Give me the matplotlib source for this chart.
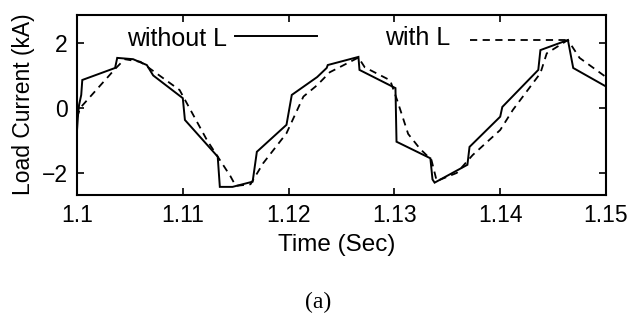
import matplotlib
matplotlib.use("Agg")
import matplotlib.pyplot as plt

# Without L (solid)
t_without = [1.1000, 1.1001, 1.1002, 1.1004, 1.1005, 1.1036, 1.1038, 1.1053, 1.1066, 1.1072,
             1.1100, 1.1102, 1.1133, 1.1135, 1.1147, 1.1166, 1.1170, 1.1198, 1.1203, 1.1227,
             1.1236, 1.1237, 1.1266, 1.1267, 1.1301, 1.1302, 1.1334, 1.1336, 1.1338, 1.1369,
             1.1371, 1.1400, 1.1402, 1.1436, 1.1438, 1.1464, 1.1469, 1.1500]
i_without = [-0.70, -0.20, 0.10, 0.40, 0.86, 1.23, 1.54, 1.50, 1.32, 1.00,
             0.30, -0.37, -1.50, -2.43, -2.43, -2.27, -1.35, -0.52, 0.40, 0.95,
             1.23, 1.32, 1.57, 1.17, 0.61, -1.04, -1.55, -2.20, -2.30, -1.75,
             -1.20, -0.27, 0.03, 1.17, 1.78, 2.09, 1.23, 0.66]

# With L (dashed)
t_with = [1.1000, 1.1003, 1.1036, 1.1045, 1.1060, 1.1097, 1.1123, 1.1145, 1.1150, 1.1164,
          1.1176, 1.1198, 1.1214, 1.1227, 1.1239, 1.1266, 1.1272, 1.1296, 1.1303, 1.1313,
          1.1324, 1.1335, 1.1340, 1.1359, 1.1374, 1.1400, 1.1412, 1.1438, 1.1444, 1.1464,
          1.1475, 1.1500]
i_with = [-0.30, 0.00, 1.20, 1.50, 1.42, 0.55, -1.00, -2.10, -2.40, -2.35,
          -1.70, -0.78, 0.35, 0.70, 1.10, 1.55, 1.25, 0.85, 0.20, -0.80,
          -1.25, -1.60, -2.25, -2.00, -1.45, -0.68, -0.06, 1.07, 1.68, 2.09,
          1.54, 0.95]

x_ticks = [1.10, 1.11, 1.12, 1.13, 1.14, 1.15]
x_tick_labels = ["1.1", "1.11", "1.12", "1.13", "1.14", "1.15"]
y_ticks = [-2, 0, 2]

plt.rcParams['font.family'] = ['Liberation Sans', 'DejaVu Sans']

fig = plt.figure(figsize=(6.30, 3.17), dpi=100)
ax = fig.add_axes([77/630, 1-195/317, (606-77)/630, 180/317])

ax.plot(t_without, i_without, color='black', lw=1.4, solid_joinstyle='miter')
ax.plot(t_with, i_with, color='black', lw=1.3, linestyle=(0, (4, 3)))

ax.set_xlim(1.1, 1.15)
ax.set_ylim(-2.68, 2.86)
ax.set_xticks(x_ticks)
ax.set_xticklabels(x_tick_labels)
ax.set_yticks(y_ticks)
ax.tick_params(direction='in', length=5, width=1.2, top=True, right=True,
               labelsize=16.5, pad=6.7)
for s in ax.spines.values():
    s.set_linewidth(1.5)

ax.set_xlabel("Time (Sec)", fontsize=17.5)
ax.set_ylabel("Load Current (kA)", fontsize=16.5)
ax.xaxis.set_label_coords(0.491, -0.215)
ax.yaxis.set_label_coords(-0.079, 0.503)

# Legend drawn as in the original
ax.text(0.0945, 0.867, "without L", transform=ax.transAxes, fontsize=18,
        ha='left', va='center')
ax.plot([0.299, 0.454], [0.883, 0.883], transform=ax.transAxes, color='black', lw=1.4)
ax.text(0.582, 0.872, "with L", transform=ax.transAxes, fontsize=18,
        ha='left', va='center')
ax.plot([0.743, 0.926], [0.861, 0.861], transform=ax.transAxes, color='black',
        lw=1.3, linestyle=(0, (4, 3)))

fig.text(0.505, 0.047, "(a)", fontsize=17, ha='center', va='center',
         family=['Liberation Serif'])

fig.savefig("out.png", dpi=100)
